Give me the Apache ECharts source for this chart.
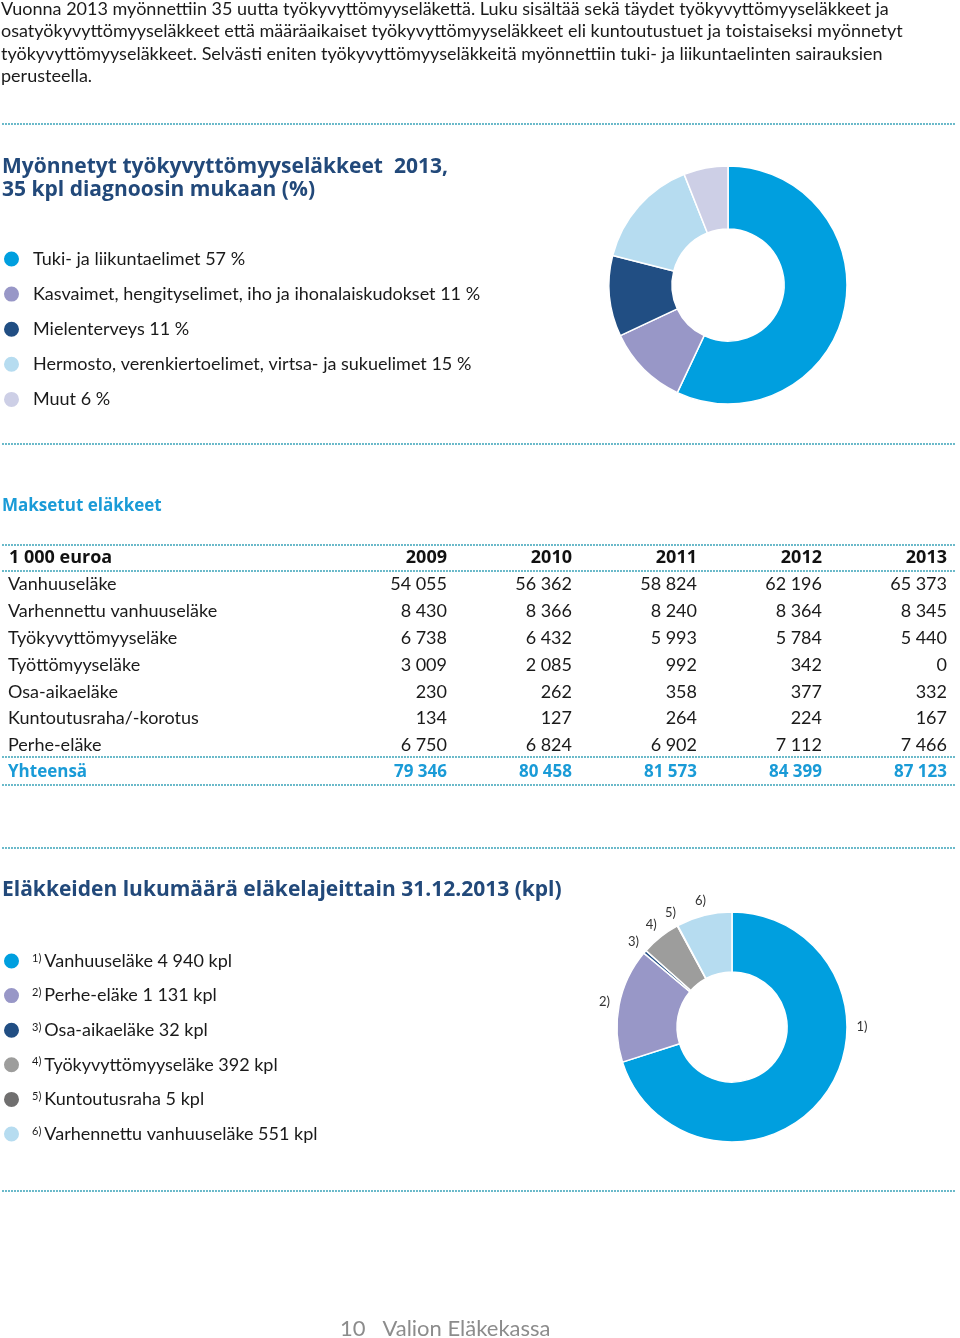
<!DOCTYPE html>
<html>
<head>
<meta charset="utf-8">
<script src="https://cdn.jsdelivr.net/npm/echarts@6/dist/echarts.min.js"></script>
<style>
  html, body { margin: 0; padding: 0; background: #fff; }
  #chart { width: 960px; height: 1338px; }
</style>
</head>
<body>
<div id="chart"></div>
<script>
// ---------- DATA ----------
const introLines = [
  'Vuonna 2013 myönnettiin 35 uutta työkyvyttömyyseläkettä. Luku sisältää sekä täydet työkyvyttömyyseläkkeet ja',
  'osatyökyvyttömyyseläkkeet että määräaikaiset työkyvyttömyyseläkkeet eli kuntoutustuet ja toistaiseksi myönnetyt',
  'työkyvyttömyyseläkkeet. Selvästi eniten työkyvyttömyyseläkkeitä myönnettiin tuki- ja liikuntaelinten sairauksien',
  'perusteella.'
];

const diagnosisNames = [
  'Tuki- ja liikuntaelimet',
  'Kasvaimet, hengityselimet, iho ja ihonalaiskudokset',
  'Mielenterveys',
  'Hermosto, verenkiertoelimet, virtsa- ja sukuelimet',
  'Muut'
];
const diagnosisPct = [57, 11, 11, 15, 6];

const tableYears = ['2009', '2010', '2011', '2012', '2013'];
const rowVanhuuselake = [54055, 56362, 58824, 62196, 65373];
const rowVarhennettu = [8430, 8366, 8240, 8364, 8345];
const rowTyokyvyttomyys = [6738, 6432, 5993, 5784, 5440];
const rowTyottomyys = [3009, 2085, 992, 342, 0];
const rowOsaAika = [230, 262, 358, 377, 332];
const rowKuntoutus = [134, 127, 264, 224, 167];
const rowPerhe = [6750, 6824, 6902, 7112, 7466];
const rowYhteensa = [79346, 80458, 81573, 84399, 87123];
const tableRowNames = ['Vanhuuseläke', 'Varhennettu vanhuuseläke', 'Työkyvyttömyyseläke', 'Työttömyyseläke', 'Osa-aikaeläke', 'Kuntoutusraha/-korotus', 'Perhe-eläke'];

const pensionTypeNames = ['Vanhuuseläke', 'Perhe-eläke', 'Osa-aikaeläke', 'Työkyvyttömyyseläke', 'Kuntoutusraha', 'Varhennettu vanhuuseläke'];
const pensionCounts = [4940, 1131, 32, 392, 5, 551];

// ---------- STYLE ----------
const FONT = 'Lato, "Open Sans", sans-serif';
const HFONT = '"Open Sans", Lato, sans-serif';
const colorsDiag = ['#009fdf', '#9897c7', '#214e83', '#b6dcf0', '#cdcfe6'];
const colorsPension = ['#009fdf', '#9897c7', '#214e83', '#9d9d9c', '#706f6f', '#b6dcf0'];
const DOT = '#3aa3b8';
const NAVY = '#22497a';
const BLUE = '#1a9bd7';

function fmt(n) {
  const s = String(n);
  return s.replace(/\B(?=(\d{3})+(?!\d))/g, ' ');
}

const chart = echarts.init(document.getElementById('chart'), null, { renderer: 'canvas' });

// graphic elements
const graphics = [];
introLines.forEach((t, i) => {
  graphics.push({ type: 'text', x: 1, y: 9 + i * 22.4,
    style: { text: t, font: '18px ' + FONT, fill: '#1a1a1a', textVerticalAlign: 'middle' } });
});
function dotted(y) {
  graphics.push({ type: 'line', shape: { x1: 3, y1: y, x2: 955, y2: y },
    style: { stroke: DOT, lineWidth: 2, lineDash: [0, 3], lineCap: 'round' } });
}
[124, 444, 545, 571, 757, 785, 848, 1191].forEach(dotted);

// table
const tableRows = [rowVanhuuselake, rowVarhennettu, rowTyokyvyttomyys, rowTyottomyys, rowOsaAika, rowKuntoutus, rowPerhe];
const colRight = [447, 572, 697, 822, 947];
const headerY = 558, rowY0 = 584.5, rowStep = 26.8;
graphics.push({ type: 'text', x: 9, y: headerY,
  style: { text: '1 000 euroa', font: 'bold 18px ' + HFONT, fill: '#111', textVerticalAlign: 'middle' } });
tableYears.forEach((yr, c) => {
  graphics.push({ type: 'text', x: colRight[c], y: headerY,
    style: { text: yr, font: 'bold 18px ' + HFONT, fill: '#111', textAlign: 'right', textVerticalAlign: 'middle' } });
});
tableRows.forEach((row, r) => {
  const y = rowY0 + r * rowStep;
  graphics.push({ type: 'text', x: 8, y: y,
    style: { text: tableRowNames[r], font: '18px ' + FONT, fill: '#1a1a1a', textVerticalAlign: 'middle' } });
  row.forEach((v, c) => {
    graphics.push({ type: 'text', x: colRight[c], y: y,
      style: { text: fmt(v), font: '18px ' + FONT, fill: '#1a1a1a', textAlign: 'right', textVerticalAlign: 'middle' } });
  });
});
const totY = rowY0 + 7 * rowStep;
graphics.push({ type: 'text', x: 8, y: totY,
  style: { text: 'Yhteensä', font: 'bold 17px ' + HFONT, fill: BLUE, textVerticalAlign: 'middle' } });
rowYhteensa.forEach((v, c) => {
  graphics.push({ type: 'text', x: colRight[c], y: totY,
    style: { text: fmt(v), font: 'bold 17px ' + HFONT, fill: BLUE, textAlign: 'right', textVerticalAlign: 'middle' } });
});
// footer
graphics.push({ type: 'text', x: 340, y: 1329,
  style: { text: '10   Valion Eläkekassa', font: '22px ' + FONT, fill: '#8c8c8c', textVerticalAlign: 'middle' } });

// pie 2 label angles
const pie2Center = [732, 1027];
const pensionTotal = pensionCounts.reduce((a, b) => a + b, 0);
const pensionMid = [];
(function () {
  let acc = 0;
  pensionCounts.forEach(v => {
    pensionMid.push((acc + v / 2) / pensionTotal * 2 * Math.PI);
    acc += v;
  });
})();

const option = {
  animation: false,
  title: [
    { text: 'Myönnetyt työkyvyttömyyseläkkeet  2013,\n35 kpl diagnoosin mukaan (%)', left: 0, top: 154, padding: 2,
      textStyle: { fontFamily: HFONT, fontWeight: 'bold', fontSize: 21, lineHeight: 23, color: NAVY } },
    { text: 'Maksetut eläkkeet', left: 0, top: 496, padding: 2,
      textStyle: { fontFamily: HFONT, fontWeight: 'bold', fontSize: 17, color: BLUE } },
    { text: 'Eläkkeiden lukumäärä eläkelajeittain 31.12.2013 (kpl)', left: 0, top: 878, padding: 2,
      textStyle: { fontFamily: HFONT, fontWeight: 'bold', fontSize: 21, color: NAVY } }
  ],
  legend: [
    {
      data: diagnosisNames, orient: 'vertical', left: 2, top: 249.5, padding: 0,
      icon: 'circle', itemWidth: 17, itemHeight: 17, itemGap: 16.1,
      selectedMode: false,
      formatter: name => name + ' ' + diagnosisPct[diagnosisNames.indexOf(name)] + ' %',
      textStyle: { fontFamily: FONT, fontSize: 18, color: '#1a1a1a', padding: [0, 0, 0, 8], lineHeight: 17 }
    },
    {
      data: pensionTypeNames, orient: 'vertical', left: 2, top: 951.5, padding: 0,
      icon: 'circle', itemWidth: 17, itemHeight: 17, itemGap: 15.6,
      selectedMode: false,
      formatter: name => {
        const i = pensionTypeNames.indexOf(name);
        return '{s|' + (i + 1) + ')}{t|' + name + ' ' + fmt(pensionCounts[i]) + ' kpl}';
      },
      textStyle: {
        padding: [0, 0, 0, 7],
        rich: {
          s: { fontFamily: FONT, fontSize: 11, color: '#1a1a1a', verticalAlign: 'top', lineHeight: 11, padding: [0, 3, 0, 0] },
          t: { fontFamily: FONT, fontSize: 18, color: '#1a1a1a', lineHeight: 17 }
        }
      }
    }
  ],
  series: [
    {
      type: 'pie', legendIndex: 0,
      center: [728, 285], radius: [56, 119], startAngle: 90, clockwise: true,
      label: { show: false }, labelLine: { show: false },
      itemStyle: { borderColor: '#fff', borderWidth: 1.5 },
      emphasis: { disabled: true },
      data: diagnosisNames.map((n, i) => ({ name: n, value: diagnosisPct[i], itemStyle: { color: colorsDiag[i] } }))
    },
    {
      type: 'pie',
      center: pie2Center, radius: [55, 115], startAngle: 90, clockwise: true,
      avoidLabelOverlap: false,
      label: { show: true, position: 'outside', fontFamily: FONT, fontSize: 13, color: '#333',
        formatter: p => (p.dataIndex + 1) + ')' },
      labelLine: { show: false },
      labelLayout: function (p) {
        const i = p.dataIndex;
        const a = i === 0 ? Math.PI / 2 : pensionMid[i];
        const R = 130;
        return { x: pie2Center[0] + R * Math.sin(a), y: pie2Center[1] - R * Math.cos(a), align: 'center', verticalAlign: 'middle' };
      },
      itemStyle: { borderColor: '#fff', borderWidth: 1.5 },
      emphasis: { disabled: true },
      data: pensionTypeNames.map((n, i) => ({ name: n, value: pensionCounts[i], itemStyle: { color: colorsPension[i] } }))
    }
  ],
  graphic: graphics
};
chart.setOption(option);
</script>
</body>
</html>
